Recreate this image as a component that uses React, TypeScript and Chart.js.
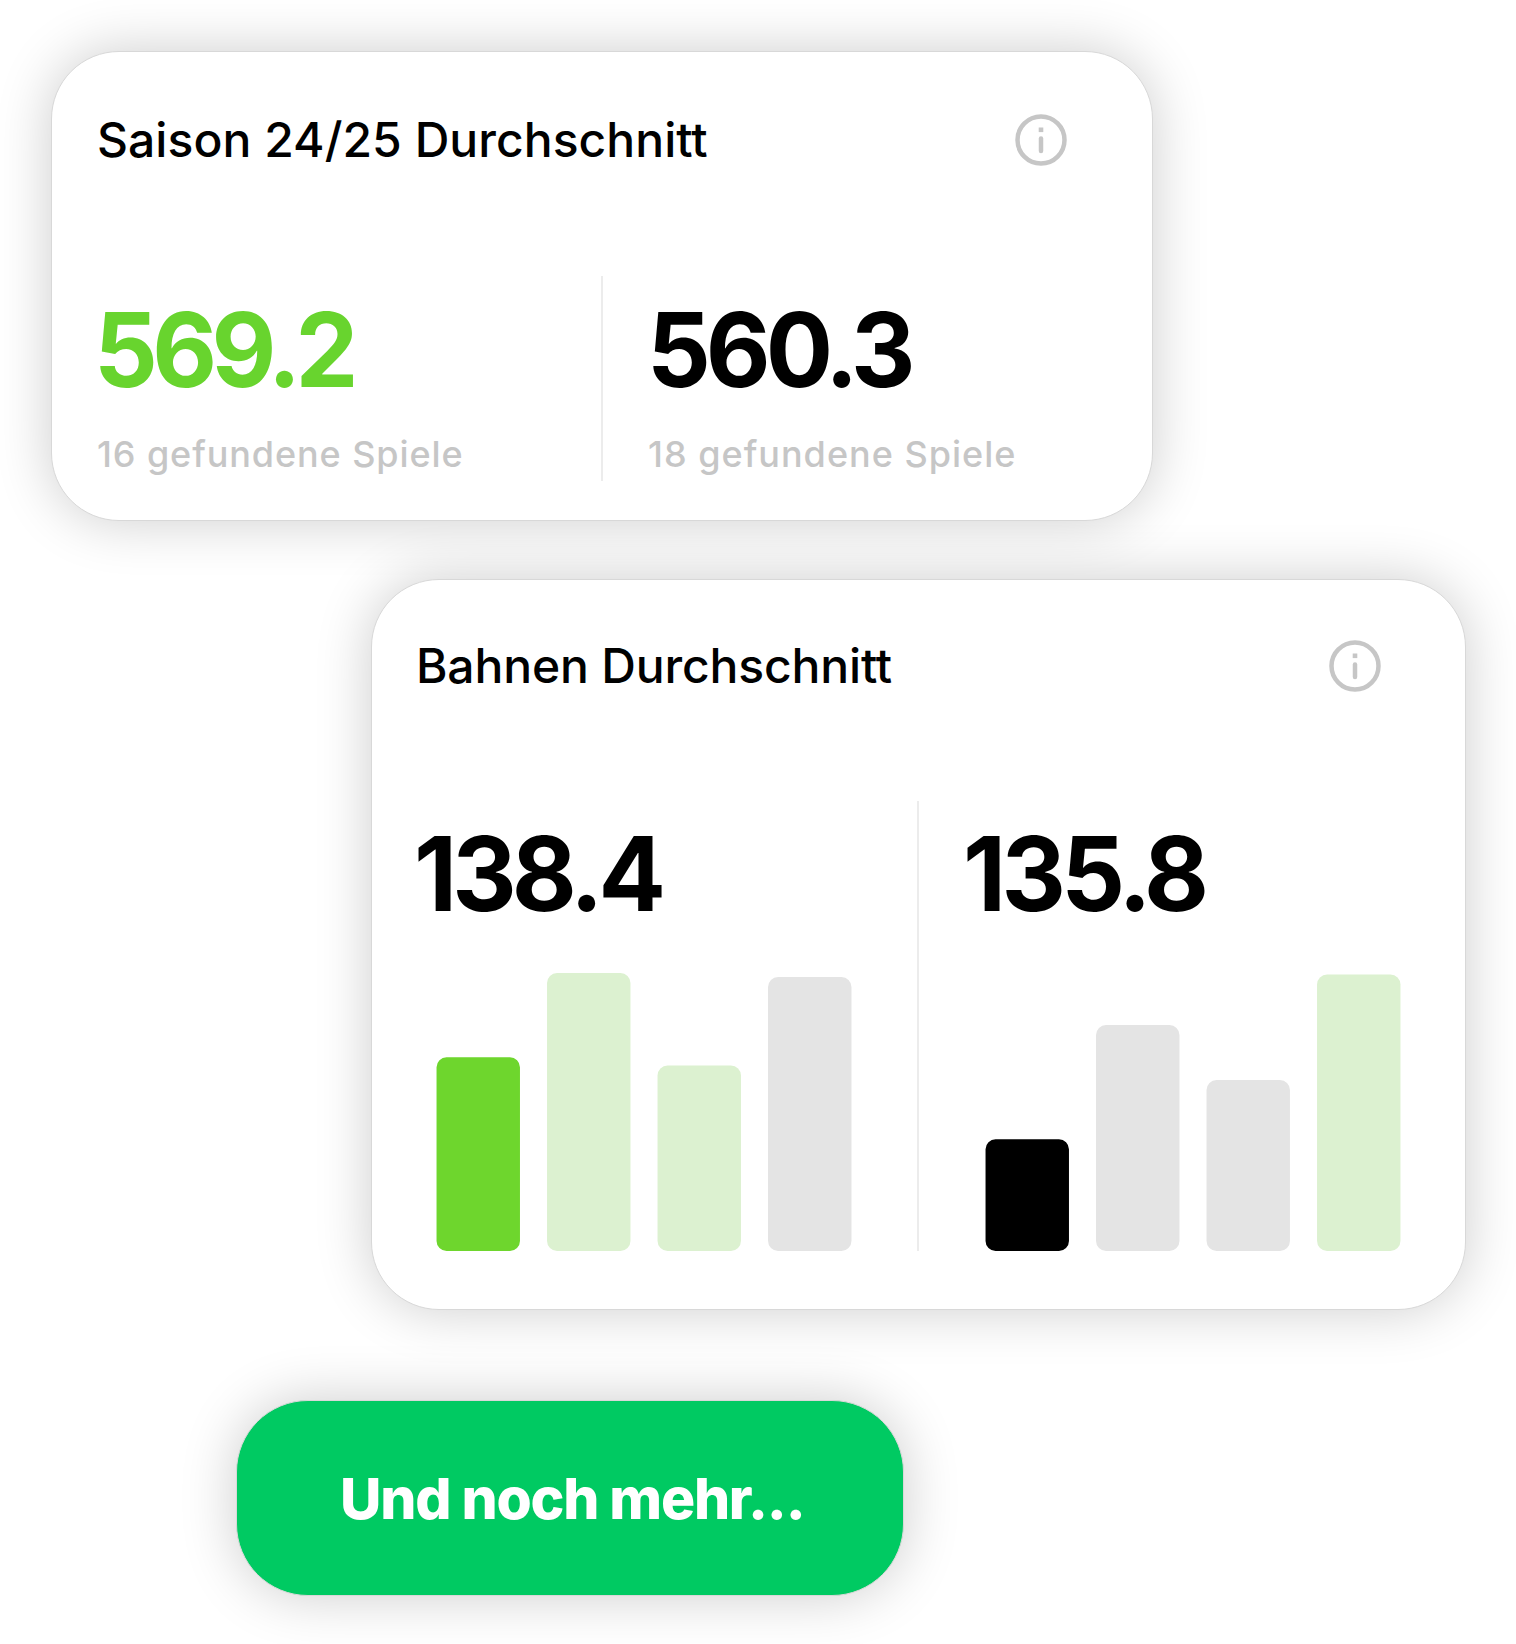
import React, { useEffect, useRef } from "react";
import { Chart, registerables } from "chart.js";

Chart.register(...registerables);

const FONT = "Inter, sans-serif";

const laneLabels = ["Bahn 1", "Bahn 2", "Bahn 3", "Bahn 4"];
const leftValues = [193.7, 278, 185.5, 274];
const rightValues = [111.7, 226, 171, 276.5];
const leftColors = ["#6ed62d", "#dcf1d0", "#dcf1d0", "#e4e4e4"];
const rightColors = ["#000000", "#e4e4e4", "#e4e4e4", "#dcf1d0"];

const seasonTitle = "Saison 24/25 Durchschnitt";
const seasonNumbers = ["569.2", "560.3"];
const seasonGames = ["16 gefundene Spiele", "18 gefundene Spiele"];
const laneTitle = "Bahnen Durchschnitt";
const laneNumbers = ["138.4", "135.8"];
const buttonText = "Und noch mehr...";

function T({ x, y, s, w, c, ls, sx = 1, children }: any) {
  return (
    <div style={{ position: "absolute", left: x, top: y - 200, display: "flex", alignItems: "baseline", whiteSpace: "nowrap", fontFamily: FONT, fontSize: s, fontWeight: w, color: c, letterSpacing: ls, transform: `scaleX(${sx})`, transformOrigin: "left" }}>
      <div style={{ width: 0, height: 200 }} />
      <span>{children}</span>
    </div>
  );
}

function Info({ cx, cy }: any) {
  return (
    <svg style={{ position: "absolute", left: cx - 28, top: cy - 28 }} width={56} height={56} viewBox="-28 -28 56 56">
      <circle r={23.5} fill="none" stroke="#c6c6c6" strokeWidth={4.5} />
      <line x1={0} y1={-1.5} x2={0} y2={11} stroke="#c6c6c6" strokeWidth={4.5} strokeLinecap="round" />
      <rect x={-2.3} y={-12.5} width={4.6} height={4.6} fill="#c6c6c6" />
    </svg>
  );
}

function Card({ l, t, r, b, radius, bg }: any) {
  return (
    <div style={{ position: "absolute", left: l, top: t, width: r - l, height: b - t, boxSizing: "border-box", borderRadius: radius, background: bg, border: "1px solid #d8d8d8", boxShadow: "0 0 56px rgba(0,0,0,0.2)" }} />
  );
}

function Bars({ left, values, colors }: any) {
  const ref = useRef<HTMLCanvasElement>(null);
  useEffect(() => {
    const chart = new Chart(ref.current!, {
      type: "bar",
      data: {
        labels: laneLabels,
        datasets: [{ data: values, backgroundColor: colors, borderRadius: 10, borderSkipped: false, barPercentage: 1, categoryPercentage: 0.755 }],
      },
      options: {
        animation: false,
        responsive: false,
        layout: { padding: 0 },
        plugins: { legend: { display: false }, tooltip: { enabled: false } },
        scales: {
          x: { display: false },
          y: { display: false, min: 0, max: 300 },
        },
      },
    });
    return () => chart.destroy();
  }, []);
  return <canvas ref={ref} width={442} height={300} style={{ position: "absolute", left, top: 951, width: 442, height: 300 }} />;
}

const Abs = ({ x, y, w, h, c }: any) => <div style={{ position: "absolute", left: x, top: y, width: w, height: h, background: c }} />;

export default function App() {
  return (
    <div style={{ position: "absolute", left: 0, top: 0, width: 1516, height: 1644, overflow: "hidden", background: "#fff" }}>
      <Card l={51} t={51} r={1153} b={521} radius={68} bg="#fff" />
      <T x={97} y={156.7} s={48} w={500} c="#000" ls={0.05}>{seasonTitle}</T>
      <Info cx={1041} cy={140} />
      <T x={94} y={386.7} s={103} w={700} c="#68d42e" ls={-5.8} sx={0.97}>{seasonNumbers[0]}</T>
      <T x={647} y={386.7} s={103} w={700} c="#000" ls={-5.2} sx={0.97}>{seasonNumbers[1]}</T>
      <T x={97} y={466.7} s={36} w={500} c="#c6c6c6" ls={0.9}>{seasonGames[0]}</T>
      <T x={648} y={466.7} s={36} w={500} c="#c6c6c6" ls={1}>{seasonGames[1]}</T>
      <Abs x={601} y={276} w={2} h={205} c="#ececec" />

      <Card l={370.5} t={578.5} r={1466} b={1309.5} radius={68} bg="#fff" />
      <T x={416} y={683} s={48} w={500} c="#000" ls={-0.15}>{laneTitle}</T>
      <Info cx={1354.5} cy={666} />
      <T x={414} y={911.4} s={103} w={700} c="#000" ls={-5} sx={0.97}>{laneNumbers[0]}</T>
      <T x={963} y={911.4} s={103} w={700} c="#000" ls={-4.8} sx={0.97}>{laneNumbers[1]}</T>
      <Abs x={917} y={801} w={2} h={450} c="#ececec" />
      <Bars left={422.5} values={leftValues} colors={leftColors} />
      <Bars left={972} values={rightValues} colors={rightColors} />

      <Card l={236} t={1400} r={903.5} b={1595.5} radius={72} bg="#00ca62" />
      <T x={340} y={1518.7} s={57} w={800} c="#fff" ls={-1.25}>{buttonText}</T>
    </div>
  );
}
